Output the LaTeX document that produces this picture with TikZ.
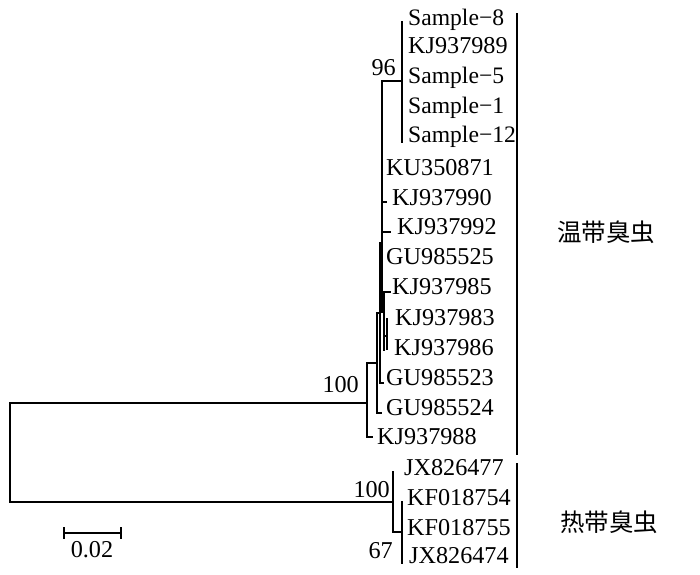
\documentclass[tikz,border=0pt]{standalone}
\usepackage{fontspec}
\setmainfont{Liberation Serif}
\newfontfamily\cjk{Noto Sans CJK SC}
\begin{document}
\begin{tikzpicture}[x=1pt,y=-1pt,
  br/.style={line width=1.5pt,line cap=rect},
  bar/.style={line width=2.2pt},
  leaf/.style={anchor=base west,inner sep=0pt,font=\fontsize{24.2}{28}\selectfont},
  smp/.style={leaf,font=\fontsize{23.6}{28}\selectfont},
  boot/.style={anchor=base east,inner sep=0pt,font=\fontsize{24.2}{28}\selectfont},
  grp/.style={anchor=center,inner sep=0pt,font=\cjk\fontsize{24.5}{28}\selectfont}]
\useasboundingbox (0,0) rectangle (700,574);
% named internal nodes
\coordinate (A) at (367,403);
\coordinate (B) at (377,363);
\coordinate (C) at (380,313);
\coordinate (D) at (382,243);
\coordinate (E) at (384,312);
\coordinate (F) at (387,336);
\coordinate (S) at (402,81);
\coordinate (T) at (393,502);
\coordinate (T2) at (402,532);
% root
\draw[br] (A) -- (10,403) -- (10,502) -- (T);
% node A
\draw[br] (372,437) -- (367,437) -- (367,363) -- (B);
% node B
\draw[br] (381,413) -- (377,413) -- (377,313) -- (C);
% node C
\draw[br] (383,383) -- (380,383) -- (380,243) -- (D);
% node D
\draw[br] (382,81) -- (382,312) -- (E);
\draw[br] (382,81) -- (S);
\draw[br] (382,202) -- (386,202);
\draw[br] (382,232) -- (390,232);
% sample clade
\draw[br] (402,22) -- (402,142);
% node E
\draw[br] (390,292) -- (384,292) -- (384,350);
\draw[br] (384,336) -- (F);
\draw[br] (387,319) -- (387,349);
% tropical
\draw[br] (393,472) -- (393,532) -- (T2);
\draw[br] (402,502) -- (402,563);
% leaves
\node[smp] (l1) at (408,25) {Sample−8};
\node[leaf] (l2) at (408,53) {KJ937989};
\node[smp] (l3) at (408,83) {Sample−5};
\node[smp] (l4) at (408,113) {Sample−1};
\node[smp] (l5) at (408,142) {Sample−12};
\node[leaf] (l6) at (386,175) {KU350871};
\node[leaf] (l7) at (392,205) {KJ937990};
\node[leaf] (l8) at (397,234) {KJ937992};
\node[leaf] (l9) at (386,264) {GU985525};
\node[leaf] (l10) at (392,294) {KJ937985};
\node[leaf] (l11) at (395,325) {KJ937983};
\node[leaf] (l12) at (394,355) {KJ937986};
\node[leaf] (l13) at (386,385) {GU985523};
\node[leaf] (l14) at (386,415) {GU985524};
\node[leaf] (l15) at (377,444) {KJ937988};
\node[leaf] (l16) at (404,475) {JX826477};
\node[leaf] (l17) at (407,505) {KF018754};
\node[leaf] (l18) at (407,535) {KF018755};
\node[leaf] (l19) at (409,563) {JX826474};
% bootstrap values
\node[boot] (b96) at (396,75) {96};
\node[boot] (b100a) at (359,392) {100};
\node[boot] (b100b) at (390,497) {100};
\node[boot] (b67) at (393,558) {67};
% scale bar
\coordinate (s1) at (64,533);
\coordinate (s2) at (121,533);
\draw[br,line cap=butt] (s1) -- (s2);
\draw[br,line cap=butt] (64,527) -- (64,539);
\draw[br,line cap=butt] (121,527) -- (121,539);
\node[anchor=base,inner sep=0pt,font=\fontsize{24.2}{28}\selectfont] (sc) at (92,557) {0.02};
% group bars
\draw[bar] (517,13) -- (517,455);
\draw[bar] (517,463) -- (517,568);
\node[grp] (g1) at (606,232) {温带臭虫};
\node[grp] (g2) at (609,522) {热带臭虫};
\end{tikzpicture}
\end{document}
